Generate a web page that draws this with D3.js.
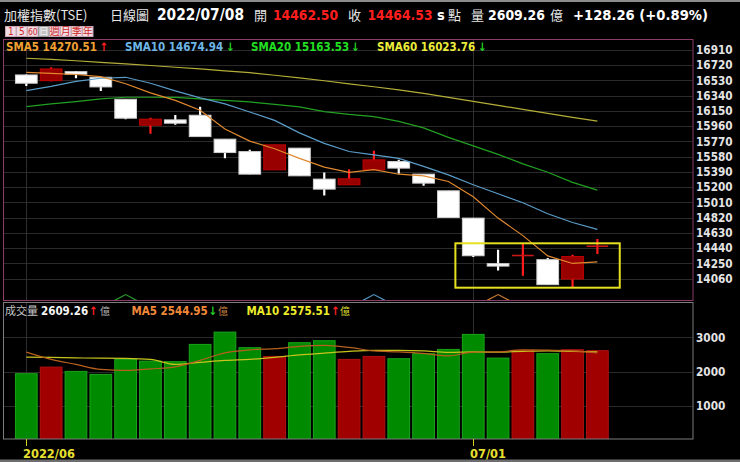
<!DOCTYPE html>
<html><head><meta charset="utf-8">
<script src="https://cdn.jsdelivr.net/npm/d3@7"></script>
<style>html,body{margin:0;padding:0;background:#000;overflow:hidden}</style>
</head><body><svg id="c" width="740" height="462"></svg>
<script>
// ---------- data ----------
const dates = ["06/07","06/08","06/09","06/10","06/13","06/14","06/15","06/16","06/17","06/20","06/21","06/22",
               "06/23","06/24","06/27","06/28","06/29","06/30","07/01","07/04","07/05","07/06","07/07","07/08"];
const openP  = [16599,16528,16640,16570,16296,15973,16039,16097,15799,15644,15417,15687,15301,15230,15417,15520,15363,15155,14815,14247,14338,14297,14056,14462.50];
const highP  = [16605,16695,16649,16574,16300,16067,16101,16204,15799,15666,15728,15687,15383,15425,15653,15541,15363,15155,14815,14421,14492,14318,14359,14554];
const lowP   = [16462,16520,16558,16400,16048,15865,15977,15831,15562,15363,15417,15342,15097,15230,15417,15367,15217,14823,14330,14163,14097,13982,13957,14367];
const closeP = [16496,16674,16608,16450,16060,16048,15998,15831,15632,15363,15728,15342,15176,15305,15541,15438,15251,14823,14346,14217,14349,13986,14336,14464.53];
const sma5  = [16632,16618,16605,16578,16490,16375,16282,16160,15925,15774,15680,15560,15450,15385,15418,15362,15342,15272,15080,14815,14597,14344,14250,14270.51];
const sma10 = [16403,16456,16518,16558,16570,16496,16400,16313,16238,16138,16033,15877,15746,15645,15603,15560,15460,15354,15231,15118,15006,14869,14760,14674.94];
const sma20 = [16204,16238,16267,16300,16321,16321,16319,16300,16282,16263,16232,16201,16142,16107,16080,16020,15939,15821,15715,15610,15491,15386,15261,15163.53];
const sma60 = [16807,16792,16776,16757,16738,16717,16695,16674,16651,16627,16595,16562,16527,16489,16452,16412,16369,16319,16269,16220,16170,16120,16070,16023.76];
const volume = [1936,2129,2003,1915,2354,2304,2287,2792,3152,2696,2441,2842,2900,2354,2441,2374,2520,2646,3085,2392,2617,2520,2637,2609.26];
const volUp  = [0,1,0,0,0,0,0,0,0,0,1,0,0,1,1,0,0,0,0,0,1,0,1,1];
const volMA5  = [2567,2354,2208,2061,2032,2076,2135,2325,2544,2632,2667,2734,2763,2705,2602,2573,2529,2456,2567,2573,2632,2626,2602,2544.95];
const volMA10 = [2421,2412,2398,2389,2383,2354,2208,2266,2325,2354,2412,2485,2538,2588,2617,2617,2602,2558,2573,2567,2588,2602,2588,2575.51];
const priceTicks = [16910,16720,16530,16340,16150,15960,15770,15580,15390,15200,15010,14820,14630,14440,14250,14060];
const volTicks = [1000,2000,3000];
const dateTickAt = ["06/07","07/01"];
const dateTickLabels = ["2022/06","07/01"];
const highlight = {from:"07/01", to:"07/08", hi:14501, lo:13948};
const peekDates = ["06/13","06/27","07/04"];
const peekColors = ["#2a9a2a","#4f93be","#c8782a"];

// ---------- setup ----------
const W=740,H=462;
const svg=d3.select("#c");
svg.append("rect").attr("width",W).attr("height",H).attr("fill","#000");
const NUM="'DejaVu Sans Condensed','DejaVu Sans',sans-serif";
const CJK="'Noto Sans CJK TC','Noto Sans CJK SC',sans-serif";

const x=d3.scaleBand().domain(dates).range([13.9,609.8]).paddingInner(0.085).paddingOuter(0.0425);
const cx=d=>x(d)+x.bandwidth()/2;
const y=d3.scaleLinear().domain([14060,16910]).range([278.7,50]);
const yv=d3.scaleLinear().domain([0,3000]).range([439.9,337.3]);

// top & bottom strips
svg.append("rect").attr("x",0).attr("y",0).attr("width",W).attr("height",2).attr("fill","#8c8c8c");
svg.append("rect").attr("x",0).attr("y",459.5).attr("width",W).attr("height",3).attr("fill","#6e6e6e");

// clip paths
const defs=svg.append("defs");
defs.append("clipPath").attr("id","pc").append("rect").attr("x",4).attr("y",40).attr("width",688.5).attr("height",260.5);
defs.append("clipPath").attr("id","vc").append("rect").attr("x",4).attr("y",303).attr("width",688.5).attr("height",136);

// ---------- grid ----------
const grid=svg.append("g");
grid.selectAll("line.pg").data(priceTicks).join("line")
  .attr("x1",4).attr("x2",692.5).attr("y1",d=>Math.round(y(d))+0.5).attr("y2",d=>Math.round(y(d))+0.5)
  .attr("stroke","#2a2a2a").attr("stroke-width",1);
grid.selectAll("line.vg").data(volTicks).join("line")
  .attr("x1",4).attr("x2",692.5).attr("y1",d=>Math.round(yv(d))+0.5).attr("y2",d=>Math.round(yv(d))+0.5)
  .attr("stroke","#2a2a2a").attr("stroke-width",1);
dateTickAt.forEach(d=>{
  const xx=Math.round(cx(d))+0.5;
  grid.append("line").attr("x1",xx).attr("x2",xx).attr("y1",40).attr("y2",300).attr("stroke","#2e2e2e");
  grid.append("line").attr("x1",xx).attr("x2",xx).attr("y1",303).attr("y2",439).attr("stroke","#2e2e2e");
});

// ---------- candles ----------
const pg=svg.append("g").attr("clip-path","url(#pc)");
const bw=x.bandwidth();
dates.forEach((d,i)=>{
  const up=closeP[i]>=openP[i];
  pg.append("line").attr("x1",cx(d)).attr("x2",cx(d)).attr("y1",y(highP[i])).attr("y2",y(lowP[i]))
    .attr("stroke",up?"#ff1c1c":"#ffffff").attr("stroke-width",2.2);
  const top=y(Math.max(openP[i],closeP[i])), bot=y(Math.min(openP[i],closeP[i]));
  const h=Math.max(1.6,bot-top);
  pg.append("rect").attr("x",x(d)+0.5).attr("y",h===1.6?top-0.8:top).attr("width",bw-1).attr("height",h)
    .attr("fill",up?(h<3?"#c81818":"#980000"):"#ffffff")
    .attr("stroke",up?(h<3?"none":"#c00000"):"#d0d0d0").attr("stroke-width",1);
});

// ---------- SMA lines ----------
const line=d3.line().x((d,i)=>cx(dates[i])).y(d=>y(d)).curve(d3.curveLinear);
[[sma60,"#b4ae38"],[sma20,"#22a022"],[sma10,"#5a9cc8"],[sma5,"#e0882e"]].forEach(([s,c])=>{
  pg.append("path").attr("d",line(s)).attr("fill","none").attr("stroke",c).attr("stroke-width",1.2);
});
// peeks of an indicator at panel bottom
peekDates.forEach((d,k)=>{
  const xc=cx(d);
  pg.append("path").attr("d",d3.line()([[xc-11,y(13790)],[xc,y(13862)],[xc+11,y(13790)]]))
    .attr("fill","none").attr("stroke",peekColors[k]).attr("stroke-width",1.2);
});

// highlight box
pg.append("rect").attr("x",x(highlight.from)-6.5).attr("y",y(highlight.hi))
  .attr("width",x(highlight.to)+bw+11-(x(highlight.from)-6.5)).attr("height",y(highlight.lo)-y(highlight.hi))
  .attr("fill","none").attr("stroke","#e6e020").attr("stroke-width",2);

// ---------- volume ----------
const vg=svg.append("g").attr("clip-path","url(#vc)");
dates.forEach((d,i)=>{
  vg.append("rect").attr("x",x(d)+0.5).attr("y",yv(volume[i])).attr("width",bw-1).attr("height",yv(0)-yv(volume[i]))
    .attr("fill",volUp[i]?"#a00000":"#008a00").attr("stroke",volUp[i]?"#b01010":"#1aa41a").attr("stroke-width",1);
});
const vline=d3.line().x((d,i)=>cx(dates[i])).y(d=>yv(d)).curve(d3.curveMonotoneX);
vg.append("path").attr("d",vline(volMA10)).attr("fill","none").attr("stroke","#c8c41e").attr("stroke-width",1.2);
vg.append("path").attr("d",vline(volMA5)).attr("fill","none").attr("stroke","#b8601e").attr("stroke-width",1.2);

// ---------- frames ----------
svg.append("rect").attr("x",3.5).attr("y",39.5).attr("width",689.5).attr("height",261).attr("fill","none").attr("stroke","#8a3c68");
svg.append("rect").attr("x",3.5).attr("y",302.5).attr("width",689.5).attr("height",136.5).attr("fill","none").attr("stroke","#7c7c7c");

// ---------- axes labels ----------
svg.append("g").selectAll("text").data(priceTicks).join("text")
  .attr("x",696).attr("y",d=>y(d)).attr("dy","0.36em").text(d=>d)
  .attr("font-family",NUM).attr("font-stretch","condensed").attr("font-weight","bold").attr("font-size",11.7).attr("fill","#e4e4e4");
svg.append("g").selectAll("text").data(volTicks).join("text")
  .attr("x",696).attr("y",d=>yv(d)).attr("dy","0.36em").text(d=>d)
  .attr("font-family",NUM).attr("font-stretch","condensed").attr("font-weight","bold").attr("font-size",11.7).attr("fill","#e4e4e4");
dateTickAt.forEach((d,k)=>{
  const xx=Math.round(cx(d))+0.5;
  svg.append("line").attr("x1",xx).attr("x2",xx).attr("y1",439).attr("y2",446).attr("stroke","#d8d020");
  svg.append("text").attr("x",xx-3.5).attr("y",457.5).text(dateTickLabels[k])
    .attr("font-family",NUM).attr("font-stretch","condensed").attr("font-weight","bold").attr("font-size",12.7).attr("fill","#e8e030");
});

// ---------- header ----------
function t(xp,yp,str,opt){
  const e=svg.append("text").attr("x",xp).attr("y",yp).text(str)
    .attr("font-family",opt.cjk?CJK:NUM).attr("font-size",opt.size)
    .attr("fill",opt.fill);
  if(!opt.cjk) e.attr("font-stretch","condensed");
  if(opt.bold) e.attr("font-weight","bold");
  if(opt.len) e.attr("textLength",opt.len).attr("lengthAdjust","spacingAndGlyphs");
  return e;
}
t(4,20,"加權指數(TSE)",{cjk:1,size:13,fill:"#e6e6e6"});
t(110,20,"日線圖",{cjk:1,size:13,fill:"#e6e6e6"});
t(157,19.5,"2022/07/08",{size:15.2,bold:1,fill:"#ffffff",len:87});
t(254,20,"開",{cjk:1,size:13,fill:"#e6e6e6"});
t(273,19.5,"14462.50",{size:14.6,bold:1,fill:"#ff1e1e",len:65});
t(348,20,"收",{cjk:1,size:13,fill:"#e6e6e6"});
t(367.5,19.5,"14464.53",{size:14.6,bold:1,fill:"#ff1e1e",len:65});
t(437,19.5,"s",{size:14.6,bold:1,fill:"#ffffff"});
t(448,20,"點",{cjk:1,size:13,fill:"#e6e6e6"});
t(471,20,"量",{cjk:1,size:13,fill:"#e6e6e6"});
t(488,19.5,"2609.26",{size:14.6,bold:1,fill:"#ffffff",len:57});
t(550,20,"億",{cjk:1,size:13,fill:"#e6e6e6"});
t(573,19.5,"+128.26 (+0.89%)",{size:14.6,bold:1,fill:"#ffffff",len:135});

// period buttons
const periods=["1","5","60","日","週","月","季","年"];
periods.forEach((p,k)=>{
  const sel=p==="日";
  svg.append("rect").attr("x",5.5+k*11).attr("y",26.5).attr("width",10.5).attr("height",10)
    .attr("fill",sel?"#c4c4c4":"#f2dce4").attr("stroke",sel?"#9a9a9a":"#c9a6b4").attr("stroke-width",1);
  svg.append("text").attr("x",5.5+k*11+5.25).attr("y",35.2).attr("text-anchor","middle").text(p)
    .attr("font-family",/[0-9]/.test(p)?NUM:CJK).attr("font-size",p==="60"?8.5:10)
    .attr("fill",sel?"#eeeeee":"#cc2a2a");
});

// price legend
const legY=51;
t(6,legY,"SMA5 14270.51",{size:11.5,bold:1,fill:"#f0a032"});
t(99.5,legY,"↑",{size:11.5,bold:1,fill:"#ff2020"});
t(125,legY,"SMA10 14674.94",{size:11.5,bold:1,fill:"#6cb6e6"});
t(226,legY,"↓",{size:11.5,bold:1,fill:"#22d022"});
t(251,legY,"SMA20 15163.53",{size:11.5,bold:1,fill:"#22e022"});
t(351,legY,"↓",{size:11.5,bold:1,fill:"#22d022"});
t(377,legY,"SMA60 16023.76",{size:11.5,bold:1,fill:"#ecec3a"});
t(478,legY,"↓",{size:11.5,bold:1,fill:"#22d022"});

// volume legend
const vY=314.5;
t(5,vY,"成交量",{cjk:1,size:11,fill:"#c4c4c4"});
t(41,vY,"2609.26",{size:11.5,bold:1,fill:"#f4f4f4"});
t(89,vY,"↑",{size:11.5,bold:1,fill:"#ff2020"});
t(100,vY,"億",{cjk:1,size:10,fill:"#b0b0b0"});
t(131.5,vY,"MA5 2544.95",{size:11.5,bold:1,fill:"#f0883a"});
t(208.5,vY,"↓",{size:11.5,bold:1,fill:"#22d022"});
t(218,vY,"億",{cjk:1,size:10,fill:"#c08040"});
t(246.5,vY,"MA10 2575.51",{size:11.5,bold:1,fill:"#ecec2a"});
t(331,vY,"↑",{size:11.5,bold:1,fill:"#ff2020"});
t(340,vY,"億",{cjk:1,size:10,fill:"#d8d830"});
</script></body></html>
